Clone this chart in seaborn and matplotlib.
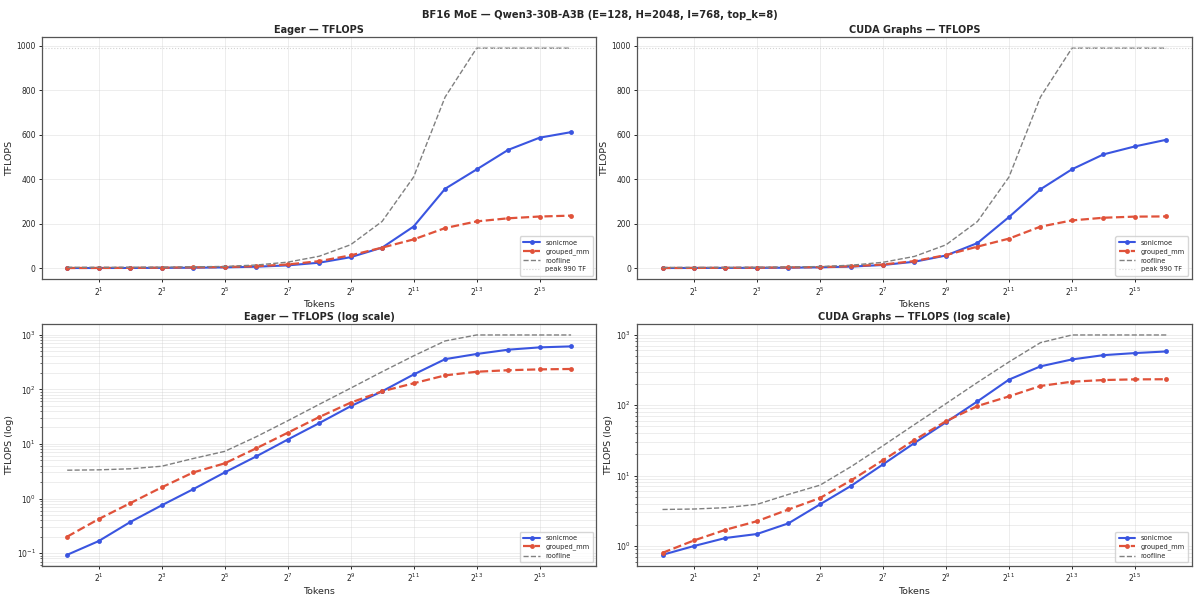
import numpy as np
import pandas as pd
import matplotlib
matplotlib.use("Agg")
import matplotlib.pyplot as plt
import seaborn as sns

# Token counts (powers of two)
tokens = [2 ** i for i in range(17)]

# TFLOPS
eager_sonicmoe = [0.093, 0.166, 0.37, 0.75, 1.48, 3.0, 5.9, 12, 24, 49, 92,
                  187, 357, 444, 532, 587, 612]
eager_grouped = [0.2, 0.42, 0.82, 1.6, 3.0, 4.4, 8.3, 16, 31, 57, 92,
                 129, 180, 210, 224, 232, 236]
cuda_sonicmoe = [0.75, 1.0, 1.3, 1.48, 2.1, 3.9, 7.2, 14.4, 29, 57, 113,
                 230, 355, 445, 512, 548, 578]
cuda_grouped = [0.8, 1.2, 1.7, 2.25, 3.3, 4.8, 8.6, 16.5, 32, 59, 97,
                133, 187, 215, 227, 232, 233]
roofline = [3.3, 3.35, 3.5, 3.9, 5.4, 7.3, 13.5, 26.5, 53, 105, 210,
            410, 770, 990, 990, 990, 990]
peak_tf = 990

sns.set_theme(style="ticks")
plt.rcParams['font.family'] = ['DejaVu Sans']

BLUE = "#3a55e0"
RED = "#e0523a"


def draw(ax, sonic, grouped, title, log=False):
    df = pd.DataFrame({"Tokens": tokens, "sonicmoe": sonic,
                       "grouped_mm": grouped, "roofline": roofline})
    sns.lineplot(data=df, x="Tokens", y="sonicmoe", ax=ax, color=BLUE,
                 marker="o", markersize=3.5, markeredgewidth=0, linewidth=1.5,
                 label="sonicmoe")
    sns.lineplot(data=df, x="Tokens", y="grouped_mm", ax=ax, color=RED,
                 marker="o", markersize=3.5, markeredgewidth=0, linewidth=1.6,
                 linestyle="--", label="grouped_mm")
    sns.lineplot(data=df, x="Tokens", y="roofline", ax=ax, color="gray",
                 linewidth=1.0, linestyle="--", label="roofline")
    if not log:
        ax.axhline(peak_tf, color="lightgray", linestyle=":", linewidth=0.8,
                   label=f"peak {peak_tf} TF")
    ax.set_xscale("log", base=2)
    ax.set_xticks([2 ** i for i in range(1, 17, 2)])
    if log:
        ax.set_yscale("log")
        ax.set_ylabel("TFLOPS (log)", fontsize=6.8, labelpad=2)
        ax.grid(True, which="both", alpha=0.35, linewidth=0.7)
    else:
        ax.set_ylabel("TFLOPS", fontsize=6.8, labelpad=2)
        ax.grid(True, alpha=0.35, linewidth=0.7)
    ax.set_xlabel("Tokens", fontsize=6.8, labelpad=2)
    ax.set_title(title, fontsize=7, fontweight="bold", pad=3)
    ax.tick_params(which="major", labelsize=5.5, length=2.5, pad=2, width=0.7)
    ax.tick_params(which="minor", length=1.5, width=0.5)
    ax.legend(loc="lower right", fontsize=4.8, handlelength=2.5,
              borderpad=0.5, labelspacing=0.4)
    for s in ax.spines.values():
        s.set_color("#555555")
        s.set_linewidth(0.9)


fig, axes = plt.subplots(2, 2, figsize=(12, 6), dpi=100)
draw(axes[0, 0], eager_sonicmoe, eager_grouped, "Eager — TFLOPS")
draw(axes[0, 1], cuda_sonicmoe, cuda_grouped, "CUDA Graphs — TFLOPS")
draw(axes[1, 0], eager_sonicmoe, eager_grouped, "Eager — TFLOPS (log scale)", log=True)
draw(axes[1, 1], cuda_sonicmoe, cuda_grouped, "CUDA Graphs — TFLOPS (log scale)", log=True)

fig.suptitle("BF16 MoE — Qwen3-30B-A3B (E=128, H=2048, I=768, top_k=8)",
             fontsize=7.2, fontweight="bold", y=0.983)
fig.subplots_adjust(left=0.035, right=0.993, top=0.938, bottom=0.057,
                    wspace=0.074, hspace=0.186)
fig.savefig("out.png", dpi=100)
